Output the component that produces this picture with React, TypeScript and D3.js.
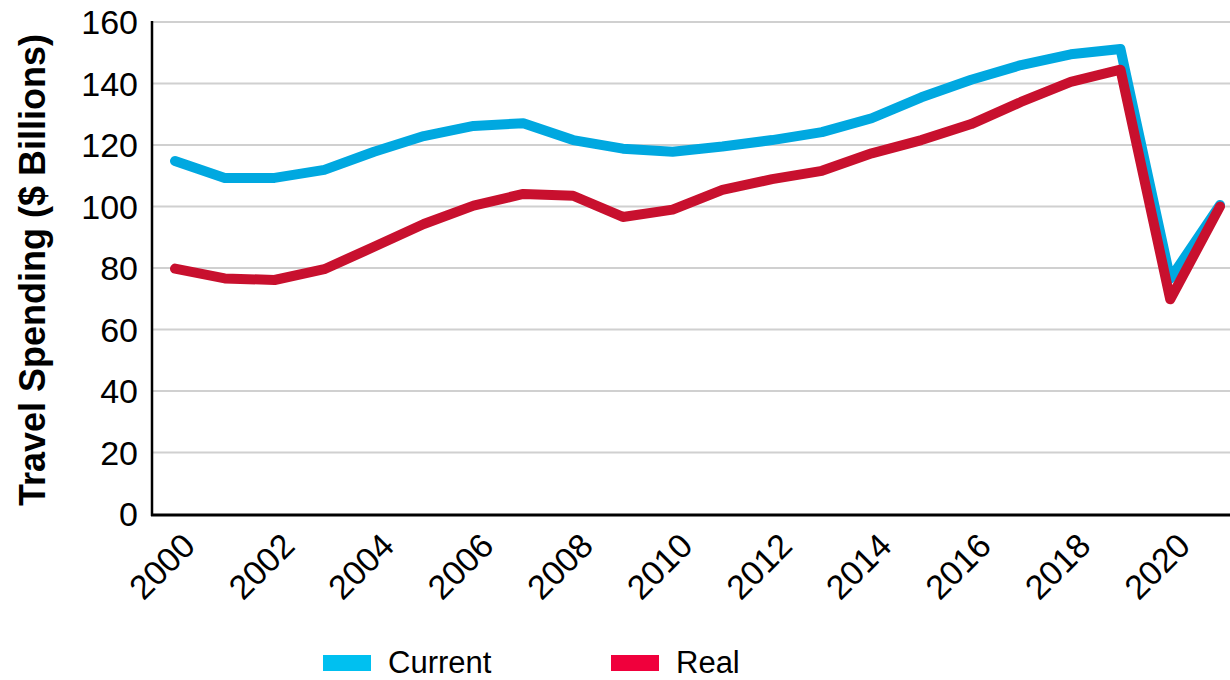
import * as d3 from "d3";

const years = [
  2000, 2001, 2002, 2003, 2004, 2005, 2006, 2007, 2008, 2009, 2010, 2011,
  2012, 2013, 2014, 2015, 2016, 2017, 2018, 2019, 2020, 2021,
];
const tickYears = [2000, 2002, 2004, 2006, 2008, 2010, 2012, 2014, 2016, 2018, 2020];
const currentSpending = [
  114.8, 109.3, 109.3, 111.9, 117.8, 122.9, 126.2, 127.1, 121.6, 118.8, 117.8,
  119.5, 121.6, 124.2, 128.7, 135.5, 141.2, 146, 149.5, 151.2, 76.5, 100.5,
];
const realSpending = [
  79.8, 76.6, 76.1, 79.6, 86.9, 94.3, 100.3, 104.1, 103.5, 96.6, 99, 105.4,
  108.9, 111.6, 117.3, 121.6, 126.8, 134, 140.5, 144.5, 69.8, 100,
];
const yTicks = [0, 20, 40, 60, 80, 100, 120, 140, 160];

const W = 1230;
const H = 680;
const font = "'Liberation Sans', Arial, sans-serif";

export default function App() {
  const x = d3.scalePoint<number>().domain(years).range([175, 1220]);
  const y = d3.scaleLinear().domain([0, 160]).range([514, 22]);

  const line = d3
    .line<number>()
    .x((_d, i) => x(years[i]) as number)
    .y((d) => y(d));

  const series = [
    { name: "Current", values: currentSpending, color: "#00A8E0", legend: "#00C0F0" },
    { name: "Real", values: realSpending, color: "#C8102E", legend: "#F0003C" },
  ];

  return (
    <svg
      width={W}
      height={H}
      style={{ position: "absolute", left: 0, top: 0, background: "#fff" }}
      fontFamily={font}
    >
      {/* gridlines */}
      {yTicks
        .filter((t) => t > 0)
        .map((t) => (
          <line key={t} x1={152} x2={W} y1={y(t)} y2={y(t)} stroke="#d0d0d0" strokeWidth={2} />
        ))}

      {/* y tick labels */}
      {yTicks.map((t) => (
        <text
          key={t}
          x={138}
          y={y(t)}
          dy="0.36em"
          textAnchor="end"
          fontSize={34}
          fill="#000"
        >
          {t}
        </text>
      ))}

      {/* y axis title */}
      <text
        transform={`translate(45,270) rotate(-90)`}
        textAnchor="middle"
        fontSize={36}
        fontWeight="bold"
        fill="#000"
      >
        Travel Spending ($ Billions)
      </text>

      {/* series lines */}
      {series.map((s) => (
        <path
          key={s.name}
          d={line(s.values) || ""}
          fill="none"
          stroke={s.color}
          strokeWidth={10}
          strokeLinejoin="round"
          strokeLinecap="round"
        />
      ))}

      {/* axes */}
      <line x1={152} x2={152} y1={21} y2={516} stroke="#000" strokeWidth={2.5} />
      <line x1={151} x2={W} y1={515} y2={515} stroke="#000" strokeWidth={3} />

      {/* x tick labels */}
      {tickYears.map((yr) => (
        <text
          key={yr}
          transform={`translate(${(x(yr) as number) + 22},${548}) rotate(-45)`}
          textAnchor="end"
          fontSize={34}
          fill="#000"
        >
          {yr}
        </text>
      ))}

      {/* legend */}
      {series.map((s, i) => {
        const lx = i === 0 ? 323 : 611;
        return (
          <g key={s.name} transform={`translate(${lx},655)`}>
            <rect width={48} height={16} fill={s.legend} />
            <text x={65} y={18} fontSize={31} fill="#000">
              {s.name}
            </text>
          </g>
        );
      })}
    </svg>
  );
}
